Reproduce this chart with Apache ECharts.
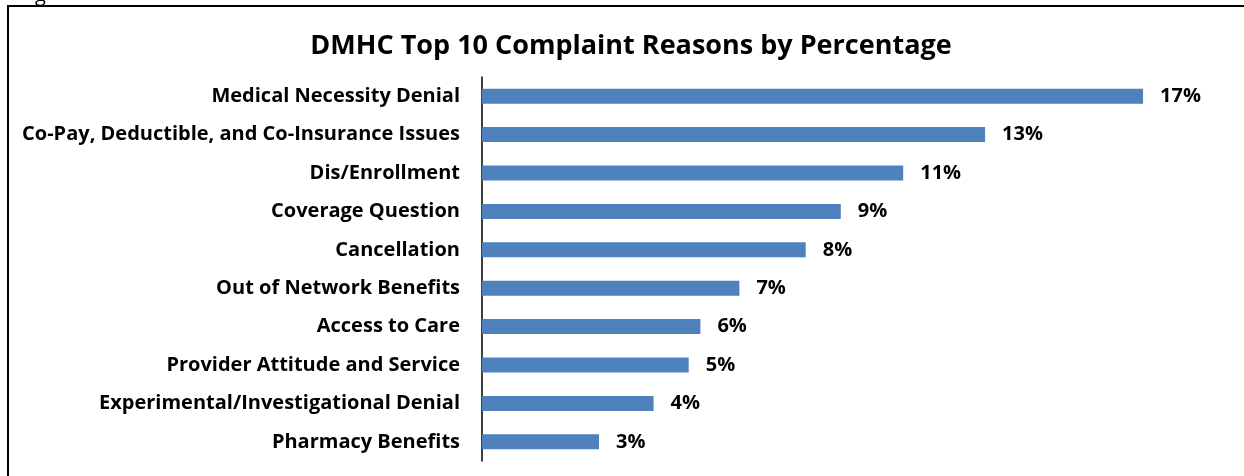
<!DOCTYPE html>
<html>
<head>
<meta charset="utf-8">
<script src="https://cdn.jsdelivr.net/npm/echarts@6/dist/echarts.min.js"></script>
<style>
html,body{margin:0;padding:0;background:#fff;}
#chart{width:1244px;height:476px;}
</style>
</head>
<body>
<div id="chart"></div>
<script>
var categories = [
  "Medical Necessity Denial",
  "Co-Pay, Deductible, and Co-Insurance Issues",
  "Dis/Enrollment",
  "Coverage Question",
  "Cancellation",
  "Out of Network Benefits",
  "Access to Care",
  "Provider Attitude and Service",
  "Experimental/Investigational Denial",
  "Pharmacy Benefits"
];
var percentages = [16.95, 12.9, 10.8, 9.2, 8.3, 6.6, 5.6, 5.3, 4.4, 3.0];
var titleText = "DMHC Top 10 Complaint Reasons by Percentage";

var FONT = "'Open Sans', Lato, sans-serif";
var chart = echarts.init(document.getElementById('chart'));
chart.setOption({
  backgroundColor: '#ffffff',
  animation: false,
  title: {
    text: titleText,
    left: 626, textAlign: 'center', top: 28,
    textStyle: { fontFamily: FONT, fontWeight: 'bold', fontSize: 27, color: '#000' }
  },
  graphic: [
    { type: 'polyline', shape: { points: [[8, 476], [8, 6], [1244, 6]] },
      style: { stroke: '#000', lineWidth: 2, fill: null } },
    { type: 'text', x: 35, y: 5,
      style: { text: 'g', font: "20px 'Open Sans', sans-serif", fill: '#000', verticalAlign: 'bottom' } }
  ],
  grid: { left: 482, top: 77, width: 702, height: 384, containLabel: false },
  xAxis: {
    type: 'value', min: 0, max: 18, show: false
  },
  yAxis: {
    type: 'category', data: categories, inverse: true,
    axisLine: { show: true, lineStyle: { color: '#000', width: 1.5 } },
    axisTick: { show: false },
    axisLabel: { margin: 22, fontFamily: FONT, fontWeight: 'bold', fontSize: 20, color: '#000' }
  },
  series: [{
    type: 'bar', data: percentages, barWidth: 15,
    itemStyle: { color: '#4F81BD' },
    label: {
      show: true, position: 'right', distance: 17,
      fontFamily: FONT, fontWeight: 'bold', fontSize: 20, color: '#000',
      formatter: function (p) { return Math.round(p.value) + '%'; }
    }
  }]
});
</script>
</body>
</html>
